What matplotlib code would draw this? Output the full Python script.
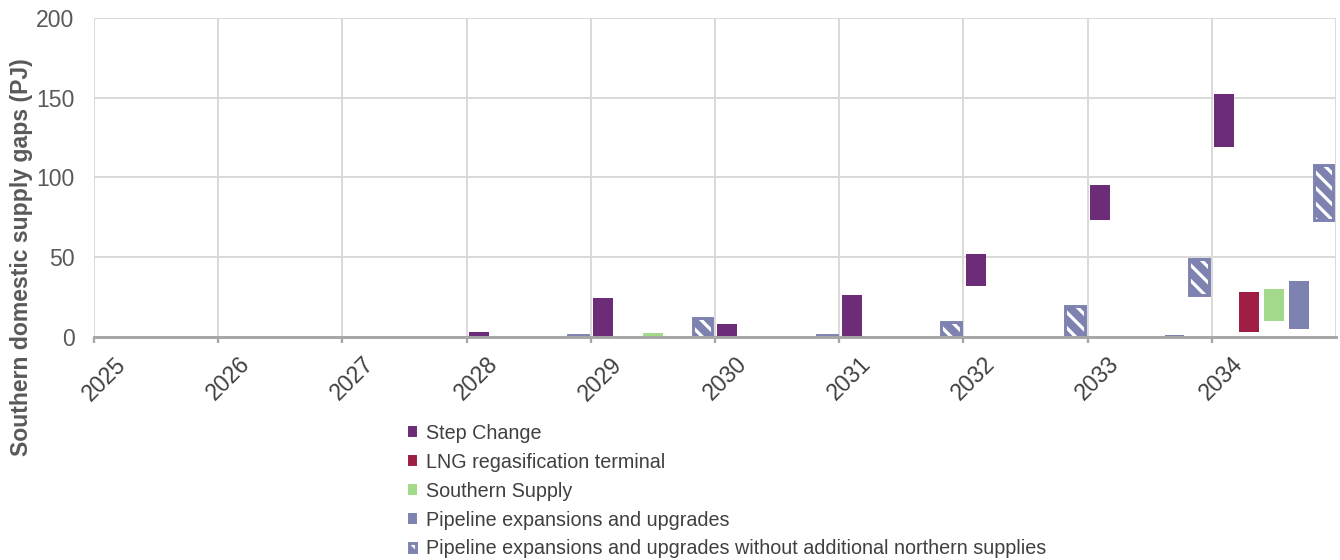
import numpy as np
import matplotlib
matplotlib.use("Agg")
import matplotlib.pyplot as plt
import matplotlib.transforms as mtransforms
from matplotlib.patches import Patch

plt.rcParams['font.family'] = ['Liberation Sans', 'DejaVu Sans']
plt.rcParams['hatch.linewidth'] = 4.0
plt.rcParams['hatch.color'] = '#7E82B0'

years = [2025, 2026, 2027, 2028, 2029, 2030, 2031, 2032, 2033, 2034]

# supply gap ranges (PJ), low and high end for each year, nan = no gap
step_low = [np.nan, np.nan, np.nan, 0, 0, 0, 0, 32, 73, 119]
step_high = [np.nan, np.nan, np.nan, 3, 24, 8, 26, 52, 95, 152.5]

lng_low = [np.nan] * 9 + [3]
lng_high = [np.nan] * 9 + [28]

south_low = [np.nan, np.nan, np.nan, np.nan, 0, np.nan, np.nan, np.nan, np.nan, 10]
south_high = [np.nan, np.nan, np.nan, np.nan, 2, np.nan, np.nan, np.nan, np.nan, 30]

pipe_low = [np.nan] * 8 + [0, 5]
pipe_high = [np.nan] * 8 + [1, 35]

pipe_nn_low = [np.nan, np.nan, np.nan, 0, 0, 0, 0, 0, 26, 73]
pipe_nn_high = [np.nan, np.nan, np.nan, 1, 11.5, 1, 9.5, 19, 49, 107.5]

series = [
    ("Step Change", step_low, step_high, dict(color='#6C2C78')),
    ("LNG regasification terminal", lng_low, lng_high, dict(color='#9E1F43')),
    ("Southern Supply", south_low, south_high, dict(color='#A3D98A')),
    ("Pipeline expansions and upgrades", pipe_low, pipe_high, dict(color='#7E82B0')),
    ("Pipeline expansions and upgrades without additional northern supplies",
     pipe_nn_low, pipe_nn_high,
     dict(facecolor='white', edgecolor='#7E82B0', hatch='\\\\\\', linewidth=1.5)),
]

fig = plt.figure(figsize=(1340 / 140, 560 / 140), dpi=140)
ax = fig.add_axes([0.0701, 0.3988, 0.9269, 0.5692])

slot = 0.2
bar_w = 0.16
handles = []
for k, (name, lo, hi, style) in enumerate(series):
    lo = np.array(lo, dtype=float)
    hi = np.array(hi, dtype=float)
    ok = ~np.isnan(lo)
    x = np.array(years, dtype=float)[ok] + slot * k + slot / 2
    ax.bar(x, hi[ok] - lo[ok], bottom=lo[ok], width=bar_w, zorder=3, **style)
    handles.append(Patch(label=name, **style))

ax.set_xlim(2025, 2035)
ax.set_ylim(0, 200)
ax.set_yticks(np.arange(0, 201, 50))
ax.set_xticks(years)
ax.set_xticklabels([])

# year labels, rotated and nudged a little to the right of each tick
lab_tr = ax.get_xaxis_transform() + mtransforms.ScaledTranslation(10 / 140, -16 / 140, fig.dpi_scale_trans)
for y in years:
    ax.text(y, 0, str(y), transform=lab_tr, rotation=45, ha='center', va='top',
            fontsize=11.8, color='#404040')

ax.grid(True, color='#D9D9D9', linewidth=1.0, zorder=0)
ax.axvline(2035, color='#D9D9D9', linewidth=1.0, zorder=0)
for s in ['top', 'right', 'left']:
    ax.spines[s].set_visible(False)
ax.spines['bottom'].set_color('#A6A6A6')
ax.spines['bottom'].set_linewidth(1.5)
ax.spines['bottom'].set_zorder(4)
ax.tick_params(axis='x', length=3, width=1.2, color='#A6A6A6')
ax.tick_params(axis='y', length=0, pad=10, labelsize=11.8, labelcolor='#595959')

ax.set_ylabel("Southern domestic supply gaps (PJ)", fontsize=11.8, fontweight='bold',
              color='#595959')
ax.yaxis.set_label_coords(-0.049, 0.248)

fig.legend(handles=handles, loc='upper left', bbox_to_anchor=(0.298, 0.261),
           frameon=False, fontsize=10.2, labelcolor='#404040',
           handlelength=0.35, handleheight=0.35, handletextpad=0.5,
           labelspacing=0.5, borderpad=0)

fig.savefig("out.png", dpi=140)
